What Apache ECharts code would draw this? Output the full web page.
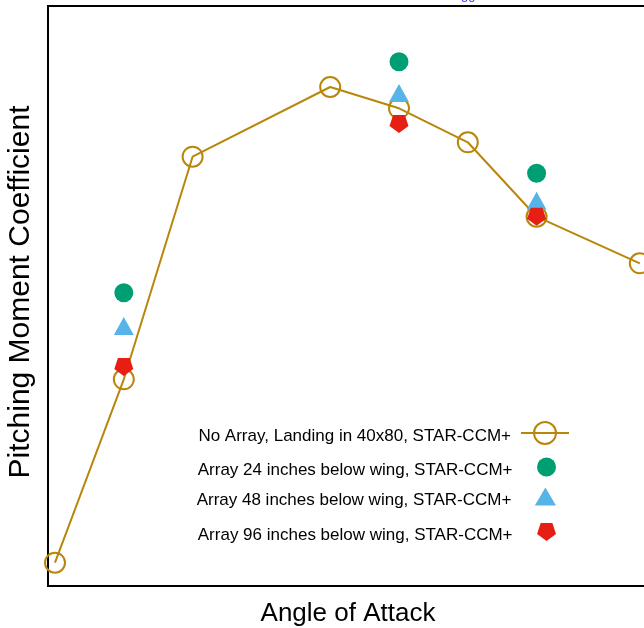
<!DOCTYPE html>
<html>
<head>
<meta charset="utf-8">
<script src="https://cdn.jsdelivr.net/npm/echarts@6/dist/echarts.min.js"></script>
<style>
html,body{margin:0;padding:0;background:#fff;}
#chart{width:644px;height:628px;}
</style>
</head>
<body>
<div id="chart"></div>
<script>
// Angle of attack (deg, estimated) and pitching moment coefficient (arbitrary units)
const angles = [-4, 0, 4, 12, 16, 20, 24, 30];
const noArray = [2.33, 20.67, 42.93, 49.9, 47.77, 44.37, 36.93, 32.27];
const arrAngles = [0, 16, 24];
const array24 = [29.33, 52.43, 41.27];
const array48 = [26.0, 49.3, 38.52];
const array96 = [21.9, 46.2, 36.93];
const seriesNames = [
  'No Array, Landing in 40x80, STAR-CCM+',
  'Array 24 inches below wing, STAR-CCM+',
  'Array 48 inches below wing, STAR-CCM+',
  'Array 96 inches below wing, STAR-CCM+'
];

const FONT = '"Liberation Sans", Arial, Helvetica, sans-serif';
const pentagon = 'path://M0,1L0.951,0.309L0.588,-0.809L-0.588,-0.809L-0.951,0.309Z';
const triangle = 'path://M0,0L10,-17L20,0Z';
const pair = (xs, ys) => xs.map((x, i) => [x, ys[i]]);

function legendFor(name, top, h, right, icon) {
  return {
    orient: 'vertical', align: 'right', right: right, top: top,
    itemWidth: 48, itemHeight: h, itemGap: 0,
    formatter: '{a|{name}}',
    textStyle: {
      fontFamily: FONT, fontSize: 17, color: '#000', padding: [0, 5, 0, 0],
      rich: {a: {fontFamily: FONT, fontSize: 17, color: '#000', lineHeight: 24, verticalAlign: 'bottom', padding: [4, 0, 0, 0]}}
    },
    data: [icon ? {name: name, icon: icon} : name]
  };
}

const chart = echarts.init(document.getElementById('chart'), null, {renderer: 'canvas'});
chart.setOption({
  animation: false,
  backgroundColor: '#fff',
  grid: {left: 48, right: -4, top: 6, bottom: 42, show: true, borderColor: '#000', borderWidth: 2,
         backgroundColor: 'transparent', containLabel: false, outerBoundsMode: 'none'},
  xAxis: {
    type: 'value', min: -4.407, max: 30.477,
    name: 'Angle of Attack', nameLocation: 'middle', nameGap: 15,
    nameTextStyle: {fontFamily: FONT, fontSize: 26, color: '#000'},
    axisLine: {show: false}, axisTick: {show: false}, axisLabel: {show: false}, splitLine: {show: false}
  },
  yAxis: {
    type: 'value', min: 0, max: 58,
    name: 'Pitching Moment Coefficient', nameLocation: 'middle', nameGap: 12,
    nameTextStyle: {fontFamily: FONT, fontSize: 30, color: '#000', padding: [0, 0, 0, 8]},
    axisLine: {show: false}, axisTick: {show: false}, axisLabel: {show: false}, splitLine: {show: false}
  },
  legend: [
    legendFor(seriesNames[0], 416, 27.5, 69),
    legendFor(seriesNames[1], 452.5, 19, 83, 'circle'),
    legendFor(seriesNames[2], 482.5, 18, 83, triangle),
    legendFor(seriesNames[3], 518, 18, 83, pentagon)
  ],
  graphic: [{
    type: 'text', left: 461, top: -11,
    style: {text: 'gg', fill: '#3333ee', font: '13px ' + FONT}
  }],
  series: [
    {
      name: seriesNames[0], type: 'line', data: pair(angles, noArray),
      symbol: 'circle', symbolSize: 20,
      lineStyle: {color: '#B8860B', width: 2},
      itemStyle: {color: 'rgba(0,0,0,0)', borderColor: '#B8860B', borderWidth: 2},
      z: 2
    },
    {
      name: seriesNames[1], type: 'scatter', data: pair(arrAngles, array24),
      symbol: 'circle', symbolSize: 19, itemStyle: {color: '#009E73', opacity: 1}, z: 3
    },
    {
      name: seriesNames[2], type: 'scatter', data: pair(arrAngles, array48),
      symbol: 'triangle', symbolSize: [20, 18], itemStyle: {color: '#56B4E9', opacity: 1}, z: 3
    },
    {
      name: seriesNames[3], type: 'scatter', data: pair(arrAngles, array96),
      symbol: pentagon, symbolSize: [19, 18], itemStyle: {color: '#E61E14', opacity: 1}, z: 3
    }
  ]
});
</script>
</body>
</html>
